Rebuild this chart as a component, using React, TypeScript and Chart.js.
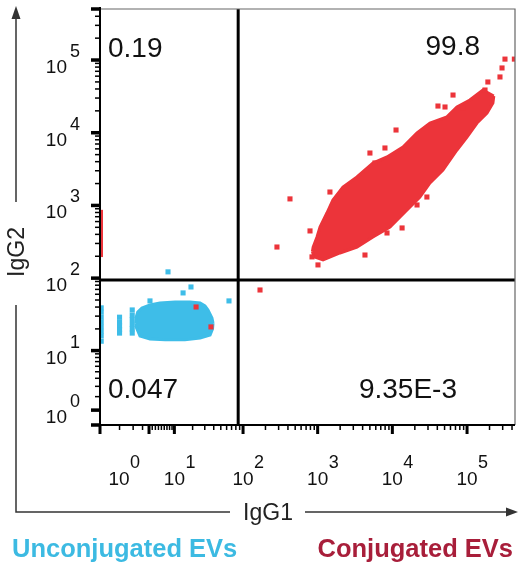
import React, { useEffect, useRef } from "react";
import { Chart, registerables } from "chart.js";

Chart.register(...registerables);

// ---------- data (fluorescence values) ----------
const xDecades = [0, 1, 2, 3, 4, 5];
const yDecades = [0, 1, 2, 3, 4, 5];
const xNegativeTicks = [-1, -4, -9];
const quadrantLabels = ["0.19", "99.8", "0.047", "9.35E-3"]; // UL, UR, LL, LR
const xTitle = "IgG1";
const yTitle = "IgG2";
const legendLabels = ["Unconjugated EVs", "Conjugated EVs"];
const xGate = 86;
const yGate = 94.5;

// Conjugated EVs (red): dense population outline + single events
const redUpperEdge: [number, number][] = [
  [850, 230], [870, 268], [980, 368], [1075, 505], [1330, 787], [1600, 1190],
  [2180, 1794], [3360, 2462], [5500, 3833], [8480, 4637], [13870, 6360],
  [21400, 9930], [31900, 13600], [53800, 16500], [73300, 22600], [109000, 28200],
  [163000, 38700], [228000, 32000],
];
const redLowerEdge: [number, number][] = [
  [850, 230], [900, 196], [1180, 178], [1990, 222], [3360, 268], [5500, 368],
  [9300, 505], [15700, 865], [23400, 1306], [31900, 2036], [47600, 3071],
  [73300, 5790], [99800, 8740], [136000, 13600], [185000, 18700],
  [222000, 25600], [228000, 32000],
];
const redEvents: [number, number][] = [
  [322000, 103000], [430000, 103000], [294000, 77800], [276000, 58500],
  [190000, 49900], [174000, 38700], [64900, 33000], [40800, 23300],
  [50700, 22600], [88100, 21900], [11200, 10900], [7960, 6170], [5010, 5260],
  [5850, 3840], [1460, 1530], [426, 1230], [29000, 1306], [21400, 1015],
  [13500, 490], [8480, 418], [4300, 208], [285, 268], [790, 446], [840, 196],
  [1010, 152], [169, 68.7], [22.5, 40.1], [36.6, 21.3],
];
const redLeftStrip: [number, number][] = [[-18, 195], [-18, 870]];

// Unconjugated EVs (blue)
const blueUpperEdge: [number, number][] = [
  [-3.1, 24], [-2.9, 30], [-2.5, 34.2], [-1.2, 38.9], [1.3, 42.8], [4.5, 45.5],
  [10.3, 47.1], [18.3, 47.1], [25.7, 45.5], [30.2, 41.5], [33.3, 36.5],
  [37.8, 28.3], [39.1, 24],
];
const blueLowerEdge: [number, number][] = [
  [-3.1, 24], [-2.9, 20.6], [-1.8, 16.0], [1.3, 14.5], [6.3, 14.1],
  [15.2, 14.1], [25.7, 15.0], [35.6, 16.5], [38.5, 20], [39.1, 24],
];
const blueEvents: [number, number][] = [
  [7.4, 122], [14.2, 62.6], [18.9, 75.6], [1.3, 48.6], [64.6, 48.6],
  [-4.3, 36.5], [-4.3, 31], [-4.3, 27], [-4.3, 23], [-4.3, 20], [-4.3, 17.5],
  [-9, 29], [-9, 25], [-9, 22], [-9, 19.5], [-9, 17.5],
  [-18.5, 39], [-18.5, 34], [-18.5, 29], [-18.5, 25], [-18.5, 21.5],
  [-18.5, 18.5], [-18.5, 16], [-18.5, 13.5],
];

// ---------- biexponential display transform ----------
const LN10 = Math.log(10);
const bx = (v: number) => Math.log10(5) + Math.asinh(v / 10) / LN10;
const by = (v: number) => Math.log10(0.9) + Math.asinh(v / 1.8) / LN10;
const X_MIN = 0.086, X_MAX = 5.642, Y_MIN = -0.02, Y_MAX = 5.702;

const RED = "rgb(236,52,58)";
const BLUE = "rgb(62,189,232)";
const FONT = '"Liberation Sans", Arial, Helvetica, sans-serif';

const pts = (arr: [number, number][]) => arr.map(([x, y]) => ({ x: bx(x), y: by(y) }));

const decoration = {
  id: "flowDecor",
  afterDraw(chart: any) {
    const ctx: CanvasRenderingContext2D = chart.ctx;
    const xs = chart.scales.x, ys = chart.scales.y;
    const { left, right, top, bottom } = chart.chartArea;
    ctx.save();

    // frame
    ctx.strokeStyle = "#666";
    ctx.lineWidth = 1.2;
    ctx.beginPath();
    ctx.moveTo(left, top); ctx.lineTo(right, top); ctx.lineTo(right, bottom);
    ctx.stroke();
    ctx.strokeStyle = "#000";
    ctx.lineWidth = 2;
    ctx.beginPath();
    ctx.moveTo(left, top - 2); ctx.lineTo(left, bottom); ctx.lineTo(right, bottom);
    ctx.stroke();

    ctx.fillStyle = "#000";
    // x ticks
    const xMajor = (px: number) => ctx.fillRect(px - 1.5, bottom, 3, 9);
    const xMinor = (px: number) => ctx.fillRect(px - 0.75, bottom, 1.5, 5);
    xMajor(left);
    xNegativeTicks.forEach((v) => xMinor(xs.getPixelForValue(bx(v))));
    xDecades.forEach((k) => {
      xMajor(xs.getPixelForValue(bx(10 ** k)));
      for (let m = 2; m <= 9; m++) {
        const d = bx(m * 10 ** k);
        if (d < X_MAX) xMinor(xs.getPixelForValue(d));
      }
    });
    // y ticks
    const yMajor = (py: number) => ctx.fillRect(left - 9, py - 1.75, 9, 3.5);
    const yMinor = (py: number) => ctx.fillRect(left - 5, py - 0.75, 5, 1.5);
    yMajor(bottom);
    yMajor(top);
    yDecades.forEach((k) => {
      yMajor(ys.getPixelForValue(by(10 ** k)));
      for (let m = 2; m <= 9; m++) {
        const d = by(m * 10 ** k);
        if (d < Y_MAX) yMinor(ys.getPixelForValue(d));
      }
    });

    // tick labels
    ctx.fillStyle = "#111";
    ctx.textBaseline = "alphabetic";
    xDecades.forEach((k) => {
      let px = xs.getPixelForValue(bx(10 ** k));
      if (k === 0) px -= 30;
      ctx.font = `19px ${FONT}`;
      ctx.textAlign = "center";
      ctx.fillText("10", px, bottom + 60);
      ctx.font = `18px ${FONT}`;
      ctx.textAlign = "left";
      ctx.fillText(String(k), px + 11, bottom + 43);
    });
    yDecades.forEach((k) => {
      const py = ys.getPixelForValue(by(10 ** k));
      ctx.font = `19px ${FONT}`;
      ctx.textAlign = "right";
      ctx.fillText("10", left - 33, py + 13);
      ctx.font = `18px ${FONT}`;
      ctx.textAlign = "left";
      ctx.fillText(String(k), left - 30, py - 3);
    });

    // quadrant percentages
    ctx.font = `28px ${FONT}`;
    ctx.fillStyle = "#111";
    ctx.textAlign = "left";
    ctx.fillText(quadrantLabels[0], left + 8, top + 48);
    ctx.fillText(quadrantLabels[2], left + 8, bottom - 27);
    ctx.textAlign = "right";
    ctx.fillText(quadrantLabels[1], right - 35, top + 46);
    ctx.fillText(quadrantLabels[3], right - 58, bottom - 27);

    // axis arrows + titles
    const ax = 16, ay = 512;
    ctx.strokeStyle = "#333";
    ctx.fillStyle = "#333";
    ctx.lineWidth = 1.5;
    ctx.beginPath();
    ctx.moveTo(ax, 18); ctx.lineTo(ax, 202);
    ctx.moveTo(ax, 305); ctx.lineTo(ax, ay); ctx.lineTo(230, ay);
    ctx.moveTo(305, ay); ctx.lineTo(508, ay);
    ctx.stroke();
    ctx.beginPath();
    ctx.moveTo(ax, 6); ctx.lineTo(ax - 4.5, 19); ctx.lineTo(ax + 4.5, 19); ctx.closePath();
    ctx.fill();
    ctx.beginPath();
    ctx.moveTo(518, ay); ctx.lineTo(506, ay - 4.5); ctx.lineTo(506, ay + 4.5); ctx.closePath();
    ctx.fill();

    ctx.font = `23px ${FONT}`;
    ctx.fillStyle = "#222";
    ctx.textAlign = "center";
    ctx.textBaseline = "alphabetic";
    ctx.fillText(xTitle, 268, ay + 8);
    ctx.save();
    ctx.translate(ax + 8, 252);
    ctx.rotate(-Math.PI / 2);
    ctx.fillText(yTitle, 0, 0);
    ctx.restore();

    // population captions
    ctx.font = `bold 25.5px ${FONT}`;
    ctx.textAlign = "left";
    ctx.fillStyle = "rgb(60,186,226)";
    ctx.fillText(legendLabels[0], 12, 557);
    ctx.textAlign = "right";
    ctx.fillStyle = "rgb(168,30,58)";
    ctx.fillText(legendLabels[1], 513, 557);

    ctx.restore();
  },
};

export default function App() {
  const ref = useRef<HTMLCanvasElement | null>(null);

  useEffect(() => {
    if (!ref.current) return;
    const edge = (data: any, color: string, fill: any, order: number) => ({
      data,
      showLine: true,
      borderColor: color,
      backgroundColor: color,
      borderWidth: 3,
      pointRadius: 0,
      tension: 0,
      fill,
      order,
    });
    const dots = (data: any, color: string, order: number) => ({
      data,
      showLine: false,
      pointStyle: "rect",
      pointRadius: 3.6,
      pointBorderWidth: 0,
      pointBackgroundColor: color,
      borderColor: color,
      fill: false,
      order,
    });
    const chart = new Chart(ref.current, {
      type: "line",
      data: {
        datasets: [
          edge(pts(redUpperEdge), RED, false, 5),
          edge(pts(redLowerEdge), RED, "-1", 5),
          edge(pts(blueUpperEdge), BLUE, false, 5),
          edge(pts(blueLowerEdge), BLUE, "-1", 5),
          { ...edge(pts(redLeftStrip), RED, false, 4), borderWidth: 2 },
          dots(pts(redEvents), RED, 3),
          dots(pts(blueEvents), BLUE, 3),
          {
            data: [{ x: bx(xGate), y: Y_MIN }, { x: bx(xGate), y: Y_MAX }],
            showLine: true, borderColor: "#000", borderWidth: 3, pointRadius: 0, fill: false, order: 0,
          },
          {
            data: [{ x: X_MIN, y: by(yGate) }, { x: X_MAX, y: by(yGate) }],
            showLine: true, borderColor: "#000", borderWidth: 3, pointRadius: 0, fill: false, order: 0,
          },
        ] as any,
      },
      options: {
        animation: false,
        responsive: true,
        maintainAspectRatio: false,
        devicePixelRatio: 1,
        layout: { padding: { left: 100, top: 9, right: 4, bottom: 143 } },
        scales: {
          x: { type: "linear", min: X_MIN, max: X_MAX, display: false },
          y: { type: "linear", min: Y_MIN, max: Y_MAX, display: false },
        },
        plugins: { legend: { display: false }, tooltip: { enabled: false } },
        events: [],
      } as any,
      plugins: [decoration],
    });
    return () => chart.destroy();
  }, []);

  return (
    <div style={{ position: "absolute", left: 0, top: 0, width: 519, height: 568, background: "#fff" }}>
      <canvas ref={ref} />
    </div>
  );
}
